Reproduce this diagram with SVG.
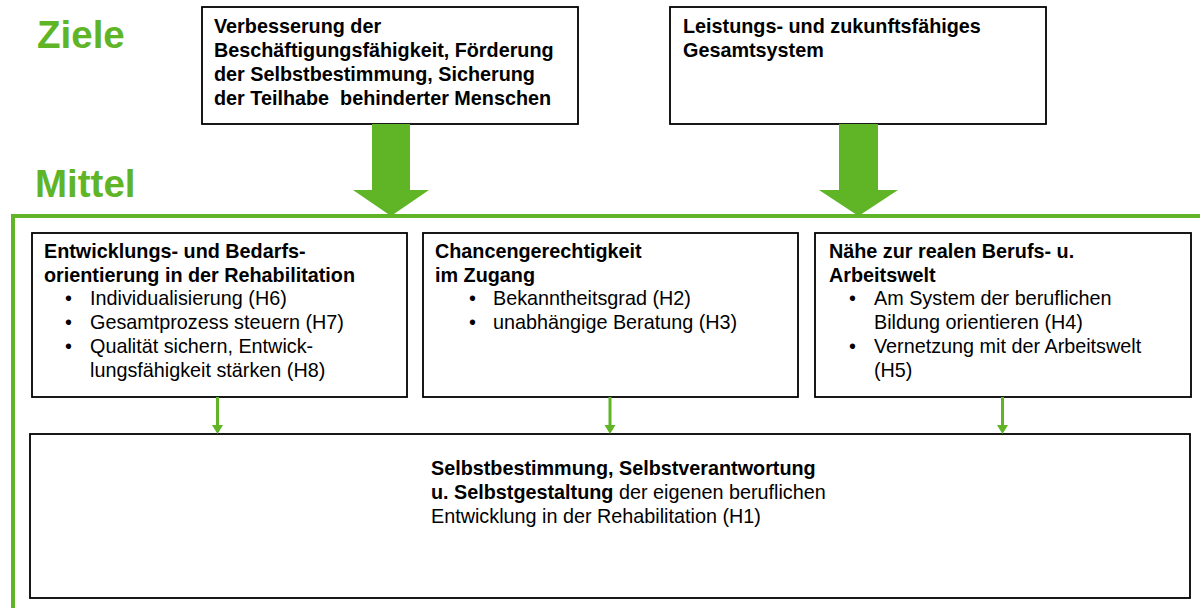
<svg xmlns="http://www.w3.org/2000/svg" width="1200" height="608" viewBox="0 0 1200 608">
<style>
.box{fill:#fff;stroke:#000;stroke-width:1.8}
.t{font-family:"Liberation Sans",Arial,sans-serif;font-size:19.8px;fill:#000}
.b{font-weight:bold}
.h{font-family:"Liberation Sans",Arial,sans-serif;font-size:38.5px;font-weight:bold;fill:#5fb526}
.g{fill:#5fb526}
.gl{stroke:#5fb526;fill:none}
</style>
<rect width="1200" height="608" fill="#fff"/>
<text class="h" x="37" y="48">Ziele</text>
<text class="h" x="35" y="197">Mittel</text>
<g id="frame">
<path class="gl" d="M13,608 V216 H1200" stroke-width="4"/>
</g>
<g id="goal1">
<rect class="box" x="202" y="7" width="376" height="117"/>
<text class="t b" x="214" y="33">Verbesserung der</text>
<text class="t b" x="214" y="57">Beschäftigungsfähigkeit, Förderung</text>
<text class="t b" x="214" y="81">der Selbstbestimmung, Sicherung</text>
<text class="t b" x="214" y="105" xml:space="preserve">der Teilhabe  behinderter Menschen</text>
</g>
<g id="goal2">
<rect class="box" x="670" y="7" width="376" height="117"/>
<text class="t b" x="683" y="33">Leistungs- und zukunftsfähiges</text>
<text class="t b" x="683" y="57">Gesamtsystem</text>
</g>
<g id="meansA">
<rect class="box" x="32" y="233" width="375" height="164"/>
<text class="t b" x="44" y="258">Entwicklungs- und Bedarfs-</text>
<text class="t b" x="44" y="282">orientierung in der Rehabilitation</text>
<text class="t" x="65" y="305">•</text><text class="t" x="90" y="305">Individualisierung (H6)</text>
<text class="t" x="65" y="329">•</text><text class="t" x="90" y="329">Gesamtprozess steuern (H7)</text>
<text class="t" x="65" y="353">•</text><text class="t" x="90" y="353">Qualität sichern, Entwick-</text>
<text class="t" x="90" y="377">lungsfähigkeit stärken (H8)</text>
</g>
<g id="meansB">
<rect class="box" x="423" y="233" width="375" height="164"/>
<text class="t b" x="435" y="258">Chancengerechtigkeit</text>
<text class="t b" x="435" y="282">im Zugang</text>
<text class="t" x="469" y="305">•</text><text class="t" x="493" y="305">Bekanntheitsgrad (H2)</text>
<text class="t" x="469" y="329">•</text><text class="t" x="493" y="329">unabhängige Beratung (H3)</text>
</g>
<g id="meansC">
<rect class="box" x="815" y="233" width="376" height="164"/>
<text class="t b" x="829" y="258">Nähe zur realen Berufs- u.</text>
<text class="t b" x="829" y="282">Arbeitswelt</text>
<text class="t" x="849" y="305">•</text><text class="t" x="874" y="305">Am System der beruflichen</text>
<text class="t" x="874" y="329">Bildung orientieren (H4)</text>
<text class="t" x="849" y="353">•</text><text class="t" x="874" y="353">Vernetzung mit der Arbeitswelt</text>
<text class="t" x="874" y="377">(H5)</text>
</g>
<g id="result">
<rect class="box" x="30" y="434" width="1160" height="164"/>
<text class="t b" x="431" y="475">Selbstbestimmung, Selbstverantwortung</text>
<text class="t" x="431" y="499"><tspan class="b">u. Selbstgestaltung</tspan> der eigenen beruflichen</text>
<text class="t" x="431" y="523">Entwicklung in der Rehabilitation (H1)</text>
</g>
<g id="connectors">
<path class="g" d="M372,124 H410 V190 H429 L391,216 L353,190 H372 Z"/>
<path class="g" d="M839,124 H878 V190 H898 L858.5,216 L819,190 H839 Z"/>
<path class="g" d="M216,397 h3 v28 h4 l-5.5,9 l-5.5,-9 h4 Z"/>
<path class="g" d="M608.5,397 h3 v28 h4 l-5.5,9 l-5.5,-9 h4 Z"/>
<path class="g" d="M1001,397 h3 v28 h4 l-5.5,9 l-5.5,-9 h4 Z"/>
</g>
</svg>
